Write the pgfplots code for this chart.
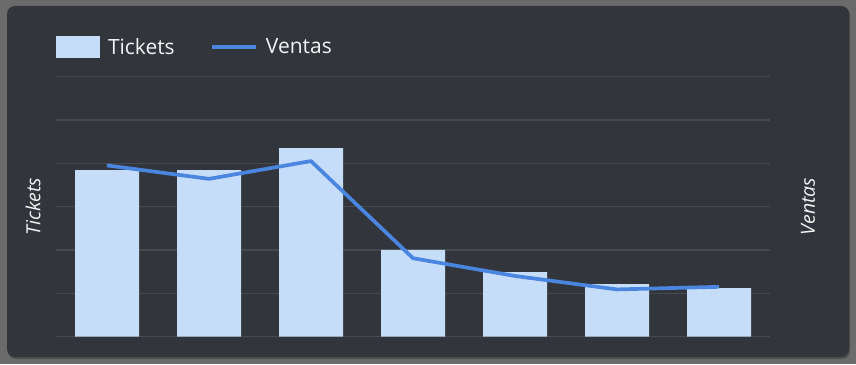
\documentclass[border=0pt]{standalone}
\usepackage{pgfplots}
\pgfplotsset{compat=1.18}
\usepackage{fontspec}
\setmainfont{Open Sans}
\definecolor{outer}{HTML}{6B6B6B}
\definecolor{panel}{HTML}{32353B}
\definecolor{gridc}{HTML}{46494E}
\definecolor{barc}{HTML}{C5DDF9}
\definecolor{linec}{HTML}{4A86E0}
\definecolor{txt}{HTML}{F2F2F2}
\begin{document}
\begin{tikzpicture}[x=1pt,y=1pt]
\fill[outer] (0,0) rectangle (856,364);
\fill[black, opacity=0.25, rounded corners=8pt] (8,5) rectangle (850,357);
\fill[panel, rounded corners=8pt] (7,7) rectangle (849,358);
\begin{axis}[
  at={(56pt,27.3pt)}, anchor=south west,
  scale only axis, width=714pt, height=260.2pt,
  xmin=-0.5, xmax=6.5, ymin=0, ymax=6,
  axis line style={draw=none},
  xtick=\empty, ytick={0,1,2,3,4,5,6}, yticklabels={},
  major tick length=0pt,
  ymajorgrids, major grid style={color=gridc, line width=1.3pt},
  clip=false,
  legend columns=2,
  legend style={at={(axis description cs:0,1.1134)}, anchor=west,
    draw=none, fill=none, text=txt,
    font=\fontsize{21}{25}\selectfont,
    inner sep=0pt, outer sep=0pt, row sep=0pt, column sep=0pt,
    nodes={inner sep=0pt, outer sep=0pt},
    /tikz/every odd column/.append style={column sep=8pt},
    /tikz/every even column/.append style={column sep=35.5pt}},
]
\addplot[ybar, bar width=64pt, fill=barc, draw=none,
  legend image code/.code={\fill[barc] (0pt,-11pt) rectangle (44pt,11pt);}]
  coordinates {(0,3.84) (1,3.84) (2,4.35) (3,2.00) (4,1.49) (5,1.215) (6,1.12)};
\addlegendentry{Tickets}
\addplot[linec, line width=3.7pt, line join=round,
  legend image code/.code={\draw[linec, line width=3.7pt] (0pt,0pt) -- (44pt,0pt);}]
  coordinates {(0,3.95) (1,3.64) (2,4.05) (3,1.81) (4,1.40) (5,1.09) (6,1.15)};
\addlegendentry{Ventas}
\node[rotate=90, text=txt, font=\fontsize{19.5}{23}\selectfont\itshape]
  at (axis description cs:-0.0322,0.5) {Tickets};
\node[rotate=90, text=txt, font=\fontsize{19.5}{23}\selectfont\itshape]
  at (axis description cs:1.0532,0.5) {Ventas};
\end{axis}
\end{tikzpicture}
\end{document}
